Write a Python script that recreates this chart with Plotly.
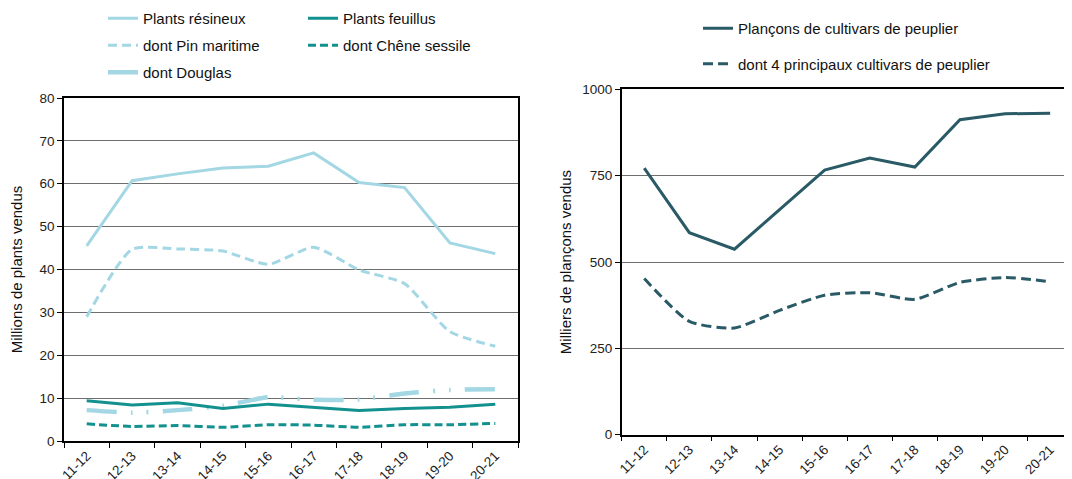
import plotly.graph_objects as go

W, H = 1072, 479
OFF = 8  # page body margin offset

categories = ["11-12", "12-13", "13-14", "14-15", "15-16", "16-17", "17-18", "18-19", "19-20", "20-21"]

# Left panel (millions de plants)
resineux = [45.5, 60.7, 62.3, 63.7, 64.1, 67.2, 60.3, 59.1, 46.2, 43.7]
pin_maritime = [29.0, 44.7, 44.8, 44.3, 41.2, 45.2, 39.9, 36.7, 25.5, 22.1]
douglas = [7.2, 6.6, 7.2, 8.2, 10.2, 9.6, 9.7, 11.1, 11.9, 12.1]
feuillus = [9.4, 8.4, 8.9, 7.6, 8.6, 7.8, 7.1, 7.6, 7.9, 8.6]
chene_sessile = [4.0, 3.4, 3.6, 3.2, 3.8, 3.7, 3.2, 3.8, 3.8, 4.1]

# Right panel (milliers de plançons)
plancons = [772, 585, 537, 652, 766, 801, 775, 912, 929, 931]
principaux4 = [452, 328, 309, 360, 404, 411, 392, 441, 455, 443]

C_RES = "#a2d7e3"
C_FEU = "#13918e"
C_PEU = "#2a5a66"
FONT = "Liberation Sans, Arial, sans-serif"


def px_x(x):
    return (x - OFF) / W


def px_y(y):
    return 1 - (y - OFF) / H


fig = go.Figure()


def add(y, name, color, width, dash, xa, ya, legend, group, shape="linear"):
    fig.add_trace(go.Scatter(
        x=categories, y=y, name=name, mode="lines",
        line=dict(color=color, width=width, dash=dash, shape=shape, smoothing=0.6),
        xaxis=xa, yaxis=ya, legend=legend, legendgroup=group,
        hoverinfo="x+y+name"))


add(resineux, "Plants résineux", C_RES, 3, "solid", "x", "y", "legend", "g1")
add(pin_maritime, "dont Pin maritime", C_RES, 3, "9px,5px", "x", "y", "legend", "g2", "spline")
add(douglas, "dont Douglas", C_RES, 4.5, "30px,14px,2px,14px,2px,14px", "x", "y", "legend", "g3", "spline")
add(feuillus, "Plants feuillus", C_FEU, 3, "solid", "x", "y", "legend2", "g4")
add(chene_sessile, "dont Chêne sessile", C_FEU, 3, "8px,4px", "x", "y", "legend2", "g5", "spline")
add(plancons, "Plançons de cultivars de peuplier", C_PEU, 3, "solid", "x2", "y2", "legend3", "g6")
add(principaux4, "dont 4 principaux cultivars de peuplier", C_PEU, 3, "10px,5px", "x2", "y2", "legend3", "g7", "spline")

xcommon = dict(type="category", tickson="boundaries", ticks="outside", ticklen=5,
               tickcolor="black", tickangle=-45, showline=True, linecolor="black",
               linewidth=1.5, mirror=True, showgrid=False, automargin=False,
               tickfont=dict(size=13.5, color="#222", family=FONT))
ycommon = dict(ticks="outside", ticklen=5, tickcolor="black", showline=True,
               linecolor="black", linewidth=1.5, showgrid=True,
               gridcolor="#6e6e6e", gridwidth=1, zeroline=False,
               tickfont=dict(size=13.5, color="#222", family=FONT), automargin=False)

leg = dict(font=dict(size=15, color="#111", family=FONT), bgcolor="rgba(0,0,0,0)",
           xanchor="left", yanchor="top", traceorder="grouped", orientation="v")

fig.update_layout(
    width=W, height=H,
    margin=dict(l=0, r=0, t=0, b=0, autoexpand=False),
    paper_bgcolor="white", plot_bgcolor="white",
    font=dict(family=FONT, color="#111"),
    xaxis=dict(domain=[px_x(64), px_x(518)], anchor="y", range=[-0.5, 9.5], **xcommon),
    yaxis=dict(domain=[px_y(441), px_y(98)], anchor="x", range=[0, 80], dtick=10, mirror=True,
               title=dict(text="Millions de plants vendus", font=dict(size=15, family=FONT, color="#111"), standoff=13),
               **ycommon),
    xaxis2=dict(domain=[px_x(621.7), px_x(1072.7)], anchor="y2", range=[-0.5, 9.5], **xcommon),
    yaxis2=dict(domain=[px_y(434.7), px_y(89.3)], anchor="x2", range=[0, 1000], dtick=250, mirror=False,
                title=dict(text="Milliers de plançons vendus", font=dict(size=15, family=FONT, color="#111"), standoff=7),
                **ycommon),
    legend=dict(x=px_x(103), y=px_y(2), tracegroupgap=4.5, **leg),
    legend2=dict(x=px_x(303), y=px_y(2), tracegroupgap=4.5, **leg),
    legend3=dict(x=px_x(698), y=px_y(12), tracegroupgap=13, **leg),
    showlegend=True,
)

fig.write_html("out.html")
